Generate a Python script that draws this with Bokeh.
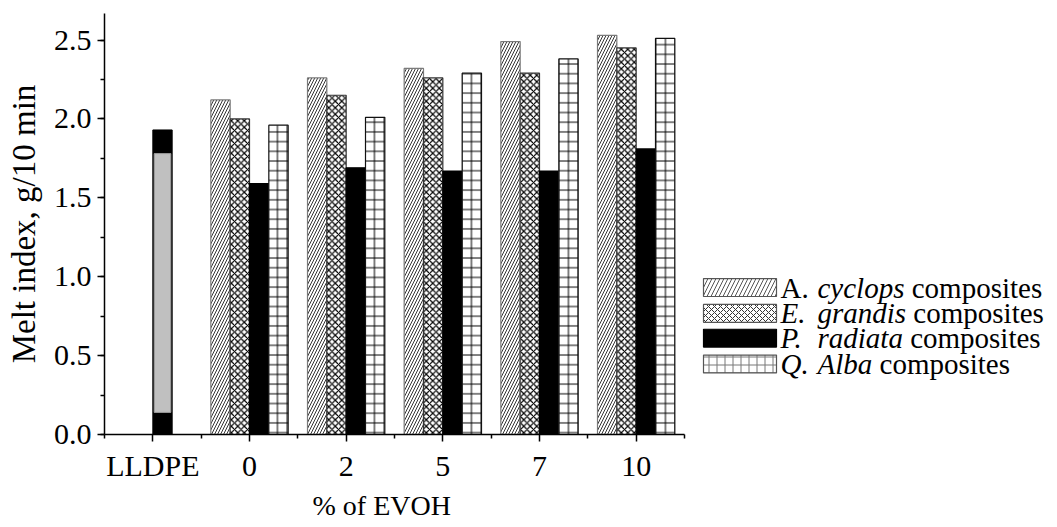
from bokeh.plotting import figure
from bokeh.models import Range1d, FixedTicker, SingleIntervalTicker, NumeralTickFormatter, ColumnDataSource, Title
from bokeh.core.properties import value
from bokeh.embed import file_html
from bokeh.resources import INLINE

# ---------------- data ----------------
categories = ["LLDPE", "0", "2", "5", "7", "10"]
evoh_groups = ["0", "2", "5", "7", "10"]
a_cyclops = [2.12, 2.26, 2.32, 2.49, 2.53]
e_grandis = [2.00, 2.15, 2.26, 2.29, 2.45]
p_radiata = [1.59, 1.69, 1.67, 1.67, 1.81]
q_alba = [1.96, 2.01, 2.29, 2.38, 2.51]
lldpe_value = [1.93]
lldpe_band_bottom = [0.14]
lldpe_band_top = [1.78]

initials = ["A.", "E.", "P.", "Q."]
initial_styles = ["normal", "italic", "italic", "italic"]
species = ["cyclops", "grandis", "radiata", "Alba"]
suffix = "composites"
x_title = "% of EVOH"
y_title = "Melt index, g/10 min"

FONT = "Liberation Serif"

# ---------------- layout constants (canvas == page pixels) ----------------
W, H = 1057, 527
BL, BT, BB = 104, 13, 90
FRAME_W = W - BL
AXIS_PX = 580                       # pixel length of the category axis
X0 = -0.5
X_END = X0 + len(categories) * FRAME_W / AXIS_PX

p = figure(width=W, height=H, output_backend="svg", toolbar_location=None,
           x_range=Range1d(X0, X_END), y_range=Range1d(0, 2.668),
           min_border_left=BL, min_border_right=0, min_border_top=BT, min_border_bottom=BB)
p.outline_line_color = None
p.xgrid.visible = False
p.ygrid.visible = False

# page-pixel coordinate system for the legend
p.extra_x_ranges = {"px": Range1d(BL, W)}
p.extra_y_ranges = {"px": Range1d(H - BB, BT)}

group_x = [i + 1 for i in range(len(evoh_groups))]
bw = 0.2
styles = [
    (a_cyclops, -0.3, dict(fill_color="white", line_color="#7a7a7a", hatch_pattern="/", hatch_scale=6, hatch_color="#333333", hatch_weight=1)),
    (e_grandis, -0.1, dict(fill_color="white", line_color="#333333", hatch_pattern="x", hatch_scale=6.5, hatch_color="black", hatch_weight=1.2)),
    (p_radiata, 0.1, dict(fill_color="black", line_color="black")),
    (q_alba, 0.3, dict(fill_color="white", line_color="#111111", hatch_pattern="+", hatch_scale=9.7, hatch_color="black", hatch_weight=1)),
]
for vals, off, st in styles:
    src = ColumnDataSource(dict(x=[g + off for g in group_x], top=vals))
    p.vbar(x="x", top="top", width=bw, bottom=0, source=src, line_width=1.2, **st)

# LLDPE reference bar
p.vbar(x=[0 + 0.1], top=lldpe_value, width=bw, bottom=0, fill_color="black", line_color="black")
p.quad(left=[0.1 - 0.086], right=[0.1 + 0.086], bottom=lldpe_band_bottom, top=lldpe_band_top,
       fill_color="#c0c0c0", line_color="#9a9a9a", line_width=1)

# axes
p.xaxis.ticker = FixedTicker(ticks=list(range(len(categories))),
                             minor_ticks=[i - 0.5 for i in range(len(categories) + 1)])
p.xaxis.major_label_overrides = {i: c for i, c in enumerate(categories)}
p.xaxis.bounds = (X0, X0 + len(categories))
p.yaxis.ticker = SingleIntervalTicker(interval=0.5, num_minor_ticks=2)
p.yaxis.formatter = NumeralTickFormatter(format="0.0")
for ax in (p.xaxis[0], p.yaxis[0]):
    ax.axis_line_width = 1.5
    ax.axis_line_color = "black"
    ax.major_tick_line_width = 1.5
    ax.minor_tick_line_width = 1.5
    ax.major_tick_line_color = "black"
    ax.minor_tick_line_color = "black"
    ax.major_tick_in = 0
    ax.major_tick_out = 7
    ax.minor_tick_in = 0
    ax.minor_tick_out = 4
    ax.major_label_text_font = FONT
    ax.major_label_text_font_size = "30px"
    ax.major_label_text_color = "black"
p.xaxis.major_label_standoff = 7
p.yaxis.major_label_standoff = 6
p.yaxis.axis_label = y_title
p.yaxis.axis_label_text_font = FONT
p.yaxis.axis_label_text_font_size = "33px"
p.yaxis.axis_label_text_font_style = "normal"
p.yaxis.axis_label_text_color = "black"
p.yaxis.axis_label_standoff = 9

# x title as a side-panel Title, so it can sit under the category axis only
p.add_layout(Title(text=x_title, align="left", offset=208, vertical_align="top", standoff=10,
                   text_font=FONT, text_font_size="28px", text_font_style="normal",
                   text_color="black"), "below")

# ---------------- legend (drawn in page-pixel coordinates) ----------------
ITA = {"c": 444, "y": 444, "l": 278, "o": 500, "p": 500, "s": 389, "g": 500, "r": 389, "a": 500,
       "n": 500, "d": 500, "i": 278, "t": 278, "A": 611, "b": 500}
fs = 29
row_c = [289, 315, 340, 366]
patch_h = 18
patch_l, patch_r = 703, 776
init_x, spec_x = 780, 817

leg_styles = [
    dict(fill_color="white", line_color="#555555", hatch_pattern="/", hatch_scale=8, hatch_color="#555555", hatch_weight=1),
    dict(fill_color="white", line_color="#555555", hatch_pattern="x", hatch_scale=6, hatch_color="#333333", hatch_weight=1),
    dict(fill_color="black", line_color="black"),
    dict(fill_color="white", line_color="#555555", hatch_pattern="+", hatch_scale=8, hatch_color="#777777", hatch_weight=1),
]
for i, st in enumerate(leg_styles):
    yc = row_c[i]
    p.quad(left=[patch_l], right=[patch_r], top=[yc - patch_h / 2], bottom=[yc + patch_h / 2], line_width=1.2,
           x_range_name="px", y_range_name="px", **st)
    p.text(x=[init_x], y=[yc], text=[initials[i]], text_font=value(FONT),
           text_font_size=value(f"{fs}px"), text_font_style=initial_styles[i],
           text_baseline="middle", text_align="left", text_color="black",
           x_range_name="px", y_range_name="px")
    p.text(x=[spec_x], y=[yc], text=[species[i]], text_font=value(FONT),
           text_font_size=value(f"{fs}px"), text_font_style="italic",
           text_baseline="middle", text_align="left", text_color="black",
           x_range_name="px", y_range_name="px")
    w = sum(ITA.get(ch, 500) for ch in species[i]) / 1000 * fs + 0.25 * fs
    p.text(x=[spec_x + w], y=[yc], text=[suffix], text_font=value(FONT),
           text_font_size=value(f"{fs}px"), text_font_style="normal",
           text_baseline="middle", text_align="left", text_color="black",
           x_range_name="px", y_range_name="px")

open("out.html", "w").write(file_html(p, INLINE))
